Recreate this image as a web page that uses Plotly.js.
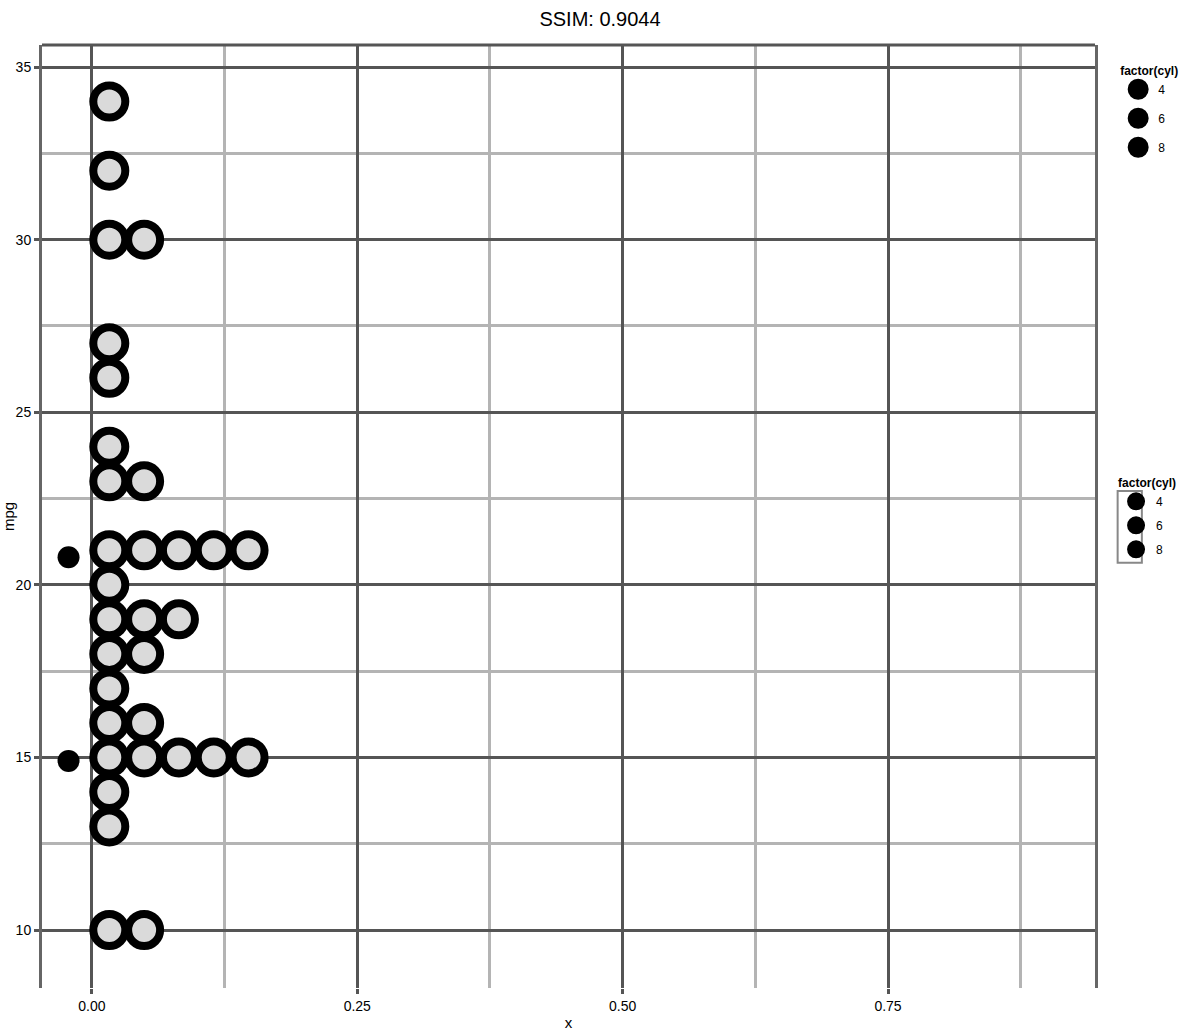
<!DOCTYPE html>
<html>
<head>
<meta charset="utf-8">
<script src="https://cdn.plot.ly/plotly-3.0.1.min.js"></script>
<style>html,body{margin:0;padding:0;background:#fff;}#chart{width:1200px;height:1034px;}</style>
</head>
<body>
<div id="chart"></div>
<script>
// ---- data ----
var mpgBins   = [10, 13, 14, 15, 16, 17, 18, 19, 20, 21, 23, 24, 26, 27, 30, 32, 34];
var binCounts = [ 2,  1,  1,  5,  2,  1,  2,  3,  1,  5,  2,  1,  1,  1,  2,  1,  1];
var extraX = [-0.022, -0.022];
var extraY = [20.8, 14.9];
var xTickVals = [0, 0.25, 0.5, 0.75];
var xTickText = ["0.00", "0.25", "0.50", "0.75"];
var yTickVals = [10, 15, 20, 25, 30, 35];
var yTickText = ["10", "15", "20", "25", "30", "35"];
var legendLabels = ["4", "6", "8"];
var legendTitle = "factor(cyl)";
var stackStep = 0.0328;

// build stacked dots
var dx = [], dy = [];
for (var i = 0; i < mpgBins.length; i++) {
  for (var k = 0; k < binCounts[i]; k++) {
    dx.push((k + 0.5) * stackStep);
    dy.push(mpgBins[i]);
  }
}

var traces = [{
  type: 'scatter', mode: 'markers', x: dx, y: dy, showlegend: false, hoverinfo: 'x+y',
  marker: {size: 32, color: '#dadada', line: {color: '#000', width: 8}}
}, {
  type: 'scatter', mode: 'markers', x: extraX, y: extraY, showlegend: false,
  marker: {size: 22, color: '#000'}
}];
legendLabels.forEach(function (lab, j) {
  traces.push({type: 'scatter', mode: 'markers', x: [null], y: [null], name: lab,
    legend: 'legend', legendgroup: 'a' + j,
    marker: {size: 16, color: '#000', line: {color: '#000', width: 5}}});
});
legendLabels.forEach(function (lab, j) {
  traces.push({type: 'scatter', mode: 'markers', x: [null], y: [null], name: lab,
    legend: 'legend2', legendgroup: 'b' + j,
    marker: {size: 14, color: '#000', line: {color: '#000', width: 4}}});
});

var gridMajor = '#555555', gridMinor = '#b4b4b4';
var layout = {
  width: 1200, height: 1034,
  margin: {l: 42, r: 105, t: 45, b: 46},
  paper_bgcolor: '#fff', plot_bgcolor: '#fff',
  font: {family: 'Liberation Sans, Arial, sans-serif', color: '#000'},
  title: {text: 'SSIM: 0.9044', x: 0.5, xref: 'container', y: 0.982, yanchor: 'middle',
    font: {size: 20, color: '#000'}},
  xaxis: {range: [-0.047, 0.945], tickmode: 'array', tickvals: xTickVals, ticktext: xTickText,
    showgrid: true, gridcolor: gridMajor, gridwidth: 3, zeroline: false,
    ticks: 'outside', ticklen: 5, tickwidth: 3, tickcolor: gridMajor,
    tickfont: {size: 14, color: '#000'},
    minor: {tickmode: 'array', tickvals: [0.125, 0.375, 0.625, 0.875], showgrid: true,
      gridcolor: gridMinor, gridwidth: 3, ticks: ''},
    title: {text: 'x', font: {size: 15, color: '#000'}, standoff: 4}},
  yaxis: {range: [8.32, 35.64], tickmode: 'array', tickvals: yTickVals, ticktext: yTickText,
    showgrid: true, gridcolor: gridMajor, gridwidth: 3, zeroline: false,
    showline: true, mirror: true, linecolor: '#666', linewidth: 3,
    ticks: 'outside', ticklen: 5, tickwidth: 3, tickcolor: gridMajor,
    tickfont: {size: 14, color: '#000'},
    minor: {tickmode: 'array', tickvals: [12.5, 17.5, 22.5, 27.5, 32.5], showgrid: true,
      gridcolor: gridMinor, gridwidth: 3, ticks: ''},
    title: {text: 'mpg', font: {size: 15, color: '#000'}, standoff: 4}},
  legend: {x: 1.022, xanchor: 'left', y: 0.985, yanchor: 'top', tracegroupgap: 10,
    font: {size: 12}, title: {text: '<b>' + legendTitle + '</b>', font: {size: 12}},
    bgcolor: 'rgba(0,0,0,0)'},
  legend2: {x: 1.02, xanchor: 'left', y: 0.548, yanchor: 'top', tracegroupgap: 5,
    font: {size: 12}, title: {text: '<b>' + legendTitle + '</b>', font: {size: 12}},
    bgcolor: 'rgba(0,0,0,0)'},
  shapes: [
    {type: 'line', xref: 'paper', yref: 'paper', x0: 0, x1: 1, y0: 1, y1: 1,
      line: {color: '#555', width: 3}},
    {type: 'rect', xref: 'paper', yref: 'paper', x0: 1.0215, x1: 1.0445, y0: 0.451, y1: 0.527,
      line: {color: '#888', width: 2}}
  ]
};

Plotly.newPlot('chart', traces, layout, {displayModeBar: false, staticPlot: true});
</script>
</body>
</html>
